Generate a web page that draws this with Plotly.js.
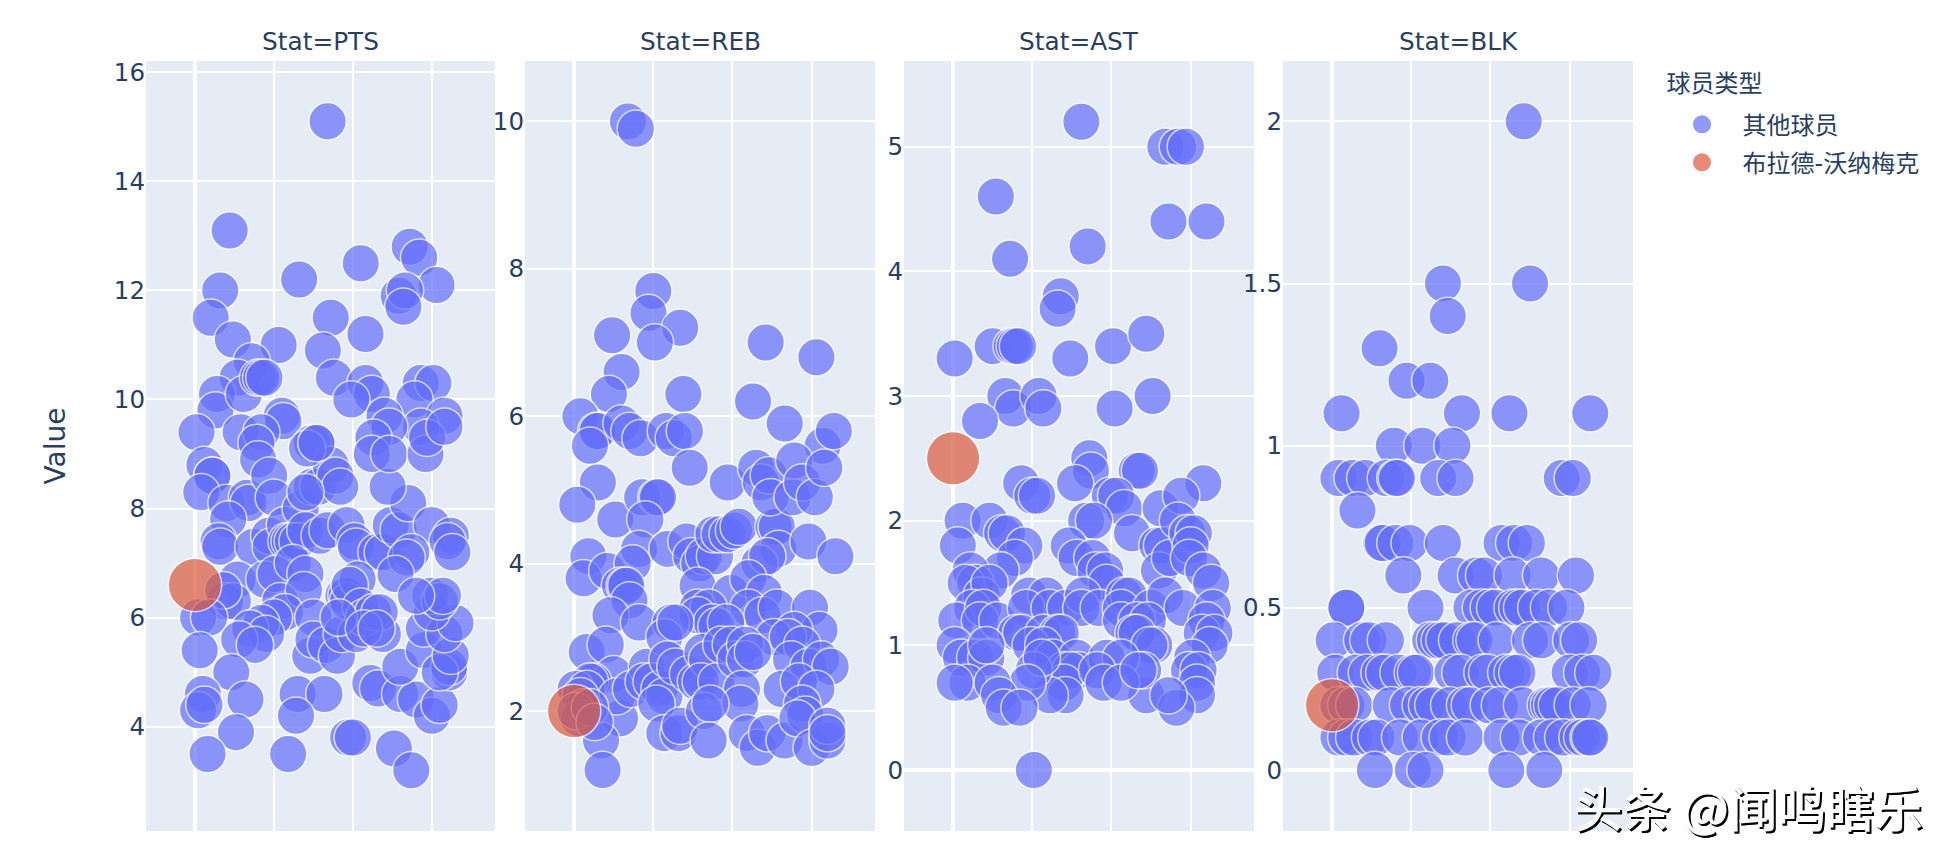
<!DOCTYPE html>
<html><head><meta charset="utf-8">
<script src="https://cdn.plot.ly/plotly-3.0.1.min.js"></script>
<style>html,body{margin:0;padding:0;background:#fff}</style></head>
<body><div id="chart" style="width:1958px;height:862px"></div>
<script>
const stats = ['PTS','REB','AST','BLK'];
const otherName = '其他球员';
const starName = '布拉德-沃纳梅克';
const legendTitle = '球员类型';
const watermark = '头条 @闻鸣瞎乐';
const starX = [0];
const starPTS = [6.6], starREB = [2.0], starAST = [2.5], starBLK = [0.2];

const xPTS = [84,22,16,10,66,105,136,142,153,129,133,132,86,108,81,53,24,36,27,14,13,31,40,42,44,88,108,112,99,143,151,139,158,143,120,123,55,56,1,29,42,39,74,77,113,
6,11,11,4,20,33,34,40,47,50,21,15,16,37,47,48,57,67,74,78,86,89,92,71,77,70,58,60,62,65,70,79,84,96,101,102,115,119,124,129,135,122,150,162,160,163,137,134,127,112,123,146,147,158,
27,44,51,62,70,54,69,57,75,19,24,18,2,9,50,42,35,45,28,38,3,23,5,2,6,32,26,8,65,82,64,59,97,100,126,137,111,116,130,140,150,155,130,145,161,161,155,162,145,158,165,150,149,155,157,140,73,75,83,90,93,102,119,94,96,97,103,98,105,107,113,117,91,107,115];
const yPTS = [15.1,13.1,12.0,11.5,12.2,12.5,12.8,12.6,12.1,11.9,12.0,11.7,11.5,11.2,10.9,11.0,11.1,10.7,10.4,10.1,9.8,10.1,10.4,10.4,10.4,10.4,10.3,10.1,10.0,10.3,10.3,10.0,9.7,9.5,9.7,9.5,9.7,9.6,9.4,9.4,9.4,9.2,9.2,9.2,9.3,
8.8,8.6,8.6,8.3,8.1,8.2,8.1,8.9,8.6,8.2,7.8,7.4,7.3,7.3,7.5,7.3,7.7,8.0,8.4,8.4,8.8,8.6,8.4,9.1,9.2,8.3,7.4,7.4,7.4,7.4,7.6,7.5,7.6,7.7,7.4,7.3,7.2,7.2,7.7,7.6,8.1,8.4,7.7,7.5,7.4,7.2,7.2,7.1,6.8,9.0,9.0,9.0,9.3,9.5,
6.7,6.7,6.8,7.0,6.8,6.3,6.5,6.1,6.0,6.3,6.3,6.5,6.0,6.0,6.0,5.9,5.8,5.7,5.6,5.5,5.4,5.0,4.6,4.3,4.4,4.5,3.9,3.5,4.6,4.6,4.2,3.5,3.8,3.8,3.6,3.2,4.8,4.7,4.6,4.5,4.2,4.4,5.1,5.4,5.0,5.1,5.0,5.3,5.8,5.7,5.9,6.1,6.4,6.3,6.4,6.4,5.3,5.6,5.5,5.3,5.7,5.7,5.7,6.4,6.4,6.3,6.7,6.6,6.2,6.0,6.1,6.1,6.0,5.8,5.8];

const xREB = [34,39,50,47,67,51,24,30,22,4,69,121,153,113,133,14,15,10,30,35,42,58,63,70,157,164,
73,15,2,26,43,52,53,45,9,6,21,41,37,29,32,33,35,23,41,8,20,25,12,10,1,8,29,27,36,17,18,46,44,49,54,57,52,57,66,67,
59,71,74,79,82,89,88,78,92,97,101,104,126,128,129,148,165,117,122,97,115,118,123,124,138,139,144,152,158,99,110,120,110,119,128,149,155,139,126,135,144,
78,85,78,87,90,96,61,57,64,59,64,72,77,81,84,80,90,93,99,102,108,108,113,106,105,82,86,85,109,116,122,133,137,148,156,162,131,142,153,144,146,141,150,160,160,160,4,6,3,1,10,13];
const yREB = [10.0,9.9,7.7,7.4,7.2,7.0,7.1,6.6,6.3,6.0,6.3,7.0,6.8,6.2,5.9,5.8,5.8,5.6,5.9,5.8,5.7,5.8,5.7,5.8,5.6,5.8,
5.3,5.1,4.8,4.6,4.9,4.9,4.9,4.6,4.1,3.8,3.9,4.2,4.0,3.7,3.7,3.7,3.5,3.3,3.2,2.8,2.9,2.5,2.4,2.4,2.3,2.3,1.9,2.2,2.3,1.6,1.2,2.6,2.4,2.4,2.3,2.2,2.1,1.7,1.7,1.8,
4.2,4.3,4.1,4.0,4.1,4.1,4.4,3.7,4.4,4.4,4.45,4.5,4.5,4.5,4.2,4.3,4.1,4.0,4.1,5.1,5.3,5.1,5.2,4.9,4.9,5.4,5.1,4.9,5.3,3.6,3.8,3.6,3.4,3.3,3.4,3.4,3.1,3.1,3.0,3.0,2.9,
3.4,3.4,3.3,3.2,3.15,3.2,3.2,3.0,3.2,2.7,2.6,2.5,2.4,2.8,2.7,2.4,2.4,2.9,2.9,2.7,2.9,2.7,2.8,2.3,2.1,2.0,2.1,1.6,1.7,1.5,1.7,1.6,2.7,2.6,2.7,2.6,2.3,2.4,2.3,2.1,1.95,1.9,1.5,1.6,1.8,1.7,2.2,2.05,1.9,2.0,2.05,1.85];

const xAST = [81,134,142,147,27,136,160,85,36,68,66,1,25,37,39,41,74,101,122,33,38,54,57,102,126,17,
86,87,77,43,50,53,116,118,99,103,108,131,158,144,6,23,31,34,3,45,39,30,84,89,113,73,78,88,90,96,97,129,132,130,137,142,148,152,150,149,158,163,
11,14,8,18,23,12,2,19,17,28,48,59,46,61,71,82,81,92,40,43,57,66,68,1,5,14,21,21,49,108,111,106,125,134,145,106,116,123,114,116,164,160,157,165,162,127,124,151,149,155,154,154,122,120,141,136,
57,63,78,70,79,74,70,71,61,51,56,47,97,106,91,95,106,117,9,1,25,29,32,42,51];
const yAST = [5.2,5.0,5.0,5.0,4.6,4.4,4.4,4.2,4.1,3.8,3.7,3.3,3.4,3.4,3.4,3.4,3.3,3.4,3.5,3.0,2.9,3.0,2.9,2.9,3.0,2.8,
2.5,2.4,2.3,2.3,2.2,2.2,2.4,2.4,2.2,2.2,2.1,2.1,2.3,2.2,2.0,2.0,1.9,1.9,1.8,1.8,1.7,1.6,2.0,2.0,1.9,1.8,1.7,1.7,1.6,1.6,1.5,1.8,1.8,1.6,1.7,2.0,1.9,1.9,1.8,1.7,1.6,1.5,
1.6,1.5,1.5,1.4,1.5,1.3,1.2,1.3,1.2,1.2,1.4,1.4,1.3,1.3,1.3,1.4,1.3,1.3,1.1,1.1,1.1,1.1,1.1,1.0,0.9,0.9,0.9,1.0,1.0,1.4,1.4,1.3,1.3,1.4,1.3,1.2,1.2,1.2,1.1,1.1,1.3,1.2,1.1,1.1,1.0,1.0,1.0,0.9,0.8,0.8,0.7,0.6,0.6,0.8,0.5,0.6,
1.0,0.9,0.9,0.8,0.8,0.8,0.7,0.6,0.6,0.8,0.9,0.7,0.9,0.9,0.8,0.7,0.7,0.8,0.7,0.7,0.7,0.6,0.5,0.5,0];

const xBLK = [121,70,125,73,30,47,62,6,82,112,163,39,57,76,4,13,21,34,40,41,67,78,145,152,16,31,32,40,49,70,107,115,123,45,78,91,96,114,132,154,9,9,59,88,94,99,103,114,117,120,129,137,148,
1,19,23,34,62,65,68,71,79,88,90,104,125,132,151,156,2,15,22,30,33,42,51,53,76,81,95,98,110,114,117,150,158,165,
4,9,14,37,48,56,60,64,74,84,87,99,106,120,135,137,139,142,152,162,4,9,14,24,28,43,56,68,73,84,107,118,132,139,146,155,158,162,163,27,51,59,110,134];
const yBLK = [2.0,1.5,1.5,1.4,1.3,1.2,1.2,1.1,1.1,1.1,1.1,1.0,1.0,1.0,0.9,0.9,0.9,0.9,0.9,0.9,0.9,0.9,0.9,0.9,0.8,0.7,0.7,0.7,0.7,0.7,0.7,0.7,0.7,0.6,0.6,0.6,0.6,0.6,0.6,0.6,0.5,0.5,0.5,0.5,0.5,0.5,0.5,0.5,0.5,0.5,0.5,0.5,0.5,
0.4,0.4,0.4,0.4,0.4,0.4,0.4,0.4,0.4,0.4,0.4,0.4,0.4,0.4,0.4,0.4,0.3,0.3,0.3,0.3,0.3,0.3,0.3,0.3,0.3,0.3,0.3,0.3,0.3,0.3,0.3,0.3,0.3,0.3,
0.2,0.2,0.2,0.2,0.2,0.2,0.2,0.2,0.2,0.2,0.2,0.2,0.2,0.2,0.2,0.2,0.2,0.2,0.2,0.2,0.1,0.1,0.1,0.1,0.1,0.1,0.1,0.1,0.1,0.1,0.1,0.1,0.1,0.1,0.1,0.1,0.1,0.1,0.1,0,0,0,0,0];

const xs = [xPTS,xREB,xAST,xBLK];
const ys = [yPTS,yREB,yAST,yBLK];
const stars = [starPTS,starREB,starAST,starBLK];
const yRanges = [[2.087,16.207],[0.372,10.82],[-0.489,5.687],[-0.188,2.186]];
const yTickSteps = [2,2,1,0.5];
const xRange = [-31,190];

const FONT = '"DejaVu Sans","Noto Sans CJK SC",sans-serif';
const INK = '#2a3f5f';
const panelPx = [[0,349],[379,729],[758,1108],[1137,1487]];
const plotW = 1487;

const traces = [];
const layout = {
  width:1958,height:862,
  margin:{l:146,r:325,t:61,b:31,pad:0},
  paper_bgcolor:'#fff',plot_bgcolor:'#E5ECF6',
  font:{family:FONT,color:INK,size:24},
  showlegend:true,
  legend:{x:(1664.5-146)/plotW,xanchor:'left',y:1-(61-61)/770,yanchor:'top',
    title:{text:legendTitle,font:{size:24,family:FONT,color:INK}},
    font:{size:24,family:FONT,color:INK},itemwidth:68,tracegroupgap:0,itemsizing:'trace',bgcolor:'rgba(0,0,0,0)'},
  annotations:[]
};
stats.forEach((s,i)=>{
  const n = i===0?'':String(i+1);
  layout['xaxis'+n] = {domain:[panelPx[i][0]/plotW,panelPx[i][1]/plotW],range:xRange,anchor:'y'+n,
    dtick:50,tick0:0,showticklabels:false,ticks:'',showgrid:true,gridcolor:'#fff',gridwidth:2,
    zeroline:true,zerolinecolor:'#fff',zerolinewidth:4,showline:false,automargin:false};
  layout['yaxis'+n] = {domain:[0,1],range:yRanges[i],anchor:'x'+n,dtick:yTickSteps[i],tick0:0,ticks:'',
    showgrid:true,gridcolor:'#fff',gridwidth:2,zeroline:true,zerolinecolor:'#fff',zerolinewidth:4,showline:false,automargin:false,
    tickfont:{size:24.5,family:FONT,color:INK}};
  if(i===0) layout.yaxis.title = {text:'Value',font:{size:28,family:FONT,color:INK},standoff:40};
  layout.annotations.push({text:'Stat='+s,xref:'paper',yref:'paper',x:(panelPx[i][0]+panelPx[i][1])/2/plotW,y:1,
    xanchor:'center',yanchor:'bottom',yshift:3,showarrow:false,font:{size:24.8,family:FONT,color:INK}});
  traces.push({type:'scatter',mode:'markers',x:xs[i],y:ys[i],xaxis:'x'+n,yaxis:'y'+n,name:otherName,legendgroup:otherName,showlegend:i===0,
    marker:{color:'#636EFA',size:37.5,opacity:0.7,line:{color:'#fff',width:1.5}},cliponaxis:false});
  traces.push({type:'scatter',mode:'markers',x:starX,y:stars[i],xaxis:'x'+n,yaxis:'y'+n,name:starName,legendgroup:starName,showlegend:i===0,
    marker:{color:'#DD5A3C',size:53.5,opacity:0.7,line:{color:'#fff',width:1.5}},cliponaxis:false});
});
layout.annotations.push({text:watermark,xref:'paper',yref:'paper',x:(1748-146)/plotW,y:-(806-831)/770,xanchor:'center',yanchor:'middle',
  showarrow:false,font:{size:48.5,weight:500,family:'"Noto Sans CJK SC",sans-serif',color:'#fff',shadow:'1.5px 1.5px 0 #000, 2px 2px 0 #000'}});

Plotly.newPlot('chart',traces,layout,{displayModeBar:false}).then(()=>{
  const root = document.getElementById('chart');
  const sb = root.querySelector('.legend .scrollbox');
  if(sb) sb.removeAttribute('clip-path');
  const groups = root.querySelectorAll('.legend .traces');
  const firstY = parseFloat(groups[0].getAttribute('transform').split(',')[1]) + 10;
  groups.forEach((g,k)=>{
    const m = /translate\(([^,]+),/.exec(g.getAttribute('transform'));
    g.setAttribute('transform','translate('+m[1]+','+(firstY+38*k)+')');
    g.querySelectorAll('.legendpoints path').forEach(p=>p.setAttribute('transform','translate(37.5,0) scale(1.25)'));
  });
});
</script></body></html>
